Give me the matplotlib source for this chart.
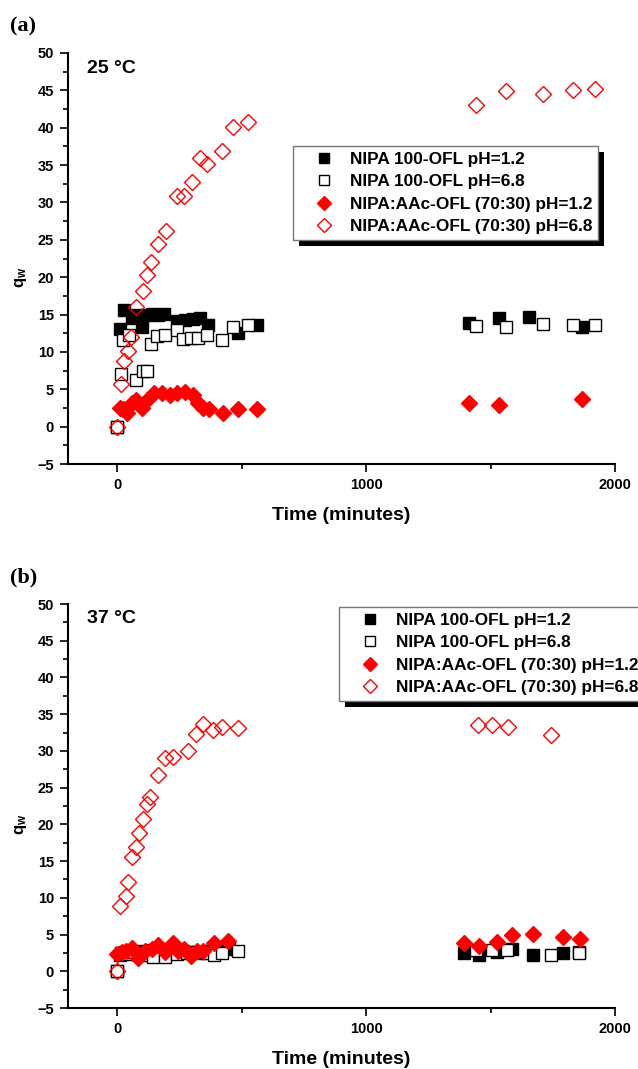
import matplotlib
matplotlib.use("Agg")
import matplotlib.pyplot as plt
from matplotlib.ticker import MultipleLocator
import matplotlib.patheffects as pe

plt.rcParams['font.family'] = ['Liberation Sans', 'DejaVu Sans']
plt.rcParams['font.weight'] = 'bold'
plt.rcParams['mathtext.fontset'] = 'custom'
plt.rcParams['mathtext.bf'] = 'Liberation Sans:bold'
plt.rcParams['mathtext.rm'] = 'Liberation Sans:bold'
plt.rcParams['mathtext.it'] = 'Liberation Sans:bold'
plt.rcParams['mathtext.default'] = 'bf'

labels = ["NIPA 100-OFL pH=1.2", "NIPA 100-OFL pH=6.8",
          "NIPA:AAc-OFL (70:30) pH=1.2", "NIPA:AAc-OFL (70:30) pH=6.8"]

# ---- Panel (a) 25 °C ----
a_nipa12_x = [0, 12, 28, 60, 76, 99, 115, 140, 165, 190, 240, 273, 306, 333, 367, 487, 564,
              1415, 1535, 1656, 1866]
a_nipa12_y = [0, 13.0, 15.6, 14.5, 15.0, 13.4, 14.9, 15.1, 15.0, 15.1, 14.1, 14.3, 14.4, 14.5, 13.6, 12.5, 13.6,
              13.9, 14.6, 14.7, 13.3]
a_nipa68_x = [0, 16, 25, 46, 76, 106, 119, 135, 160, 193, 240, 264, 296, 327, 360, 420, 465, 527,
              1442, 1561, 1712, 1830, 1921]
a_nipa68_y = [0, 7.0, 11.6, 12.3, 6.3, 7.5, 7.5, 11.0, 12.1, 12.3, 12.9, 11.7, 11.9, 11.9, 12.3, 11.6, 13.4, 13.6,
              13.5, 13.4, 13.7, 13.6, 13.6]
a_aac12_x = [10, 25, 39, 59, 76, 99, 122, 149, 179, 213, 242, 273, 304, 324, 344, 371, 427, 487, 561,
             1415, 1535, 1866]
a_aac12_y = [2.5, 2.3, 1.8, 3.2, 3.6, 2.5, 3.6, 4.5, 4.5, 4.3, 4.5, 4.7, 4.3, 3.2, 2.5, 2.3, 1.8, 2.3, 2.3,
             3.1, 2.9, 3.7]
a_aac68_x = [0, 15, 28, 43, 56, 76, 106, 119, 135, 166, 197, 240, 270, 302, 333, 360, 420, 465, 527,
             1442, 1561, 1712, 1830, 1921]
a_aac68_y = [0, 5.7, 8.8, 10.1, 12.0, 16.0, 18.2, 20.3, 22.0, 24.5, 26.2, 30.8, 30.9, 32.7, 35.9, 35.1, 36.9, 40.1, 40.8,
             43.1, 44.9, 44.5, 45.1, 45.2]

# ---- Panel (b) 37 °C ----
b_nipa12_x = [0, 12, 30, 55, 80, 105, 135, 165, 195, 230, 265, 300, 335, 370, 410, 450,
              1395, 1455, 1525, 1585, 1672, 1793, 1857]
b_nipa12_y = [0, 2.2, 2.6, 2.8, 2.4, 2.7, 2.9, 3.0, 2.8, 3.0, 2.7, 2.6, 2.5, 2.8, 2.9, 3.0,
              2.5, 2.2, 2.6, 3.1, 2.2, 2.5, 2.6]
b_nipa68_x = [0, 15, 40, 70, 95, 120, 144, 193, 240, 280, 320, 360, 390, 422, 487,
              1442, 1505, 1565, 1742, 1855]
b_nipa68_y = [0, 2.5, 2.3, 2.6, 2.4, 2.2, 2.0, 2.0, 2.4, 2.5, 2.6, 2.5, 2.2, 2.5, 2.8,
              2.9, 2.9, 2.9, 2.2, 2.5]
b_aac12_x = [1, 18, 36, 59, 86, 112, 139, 166, 193, 226, 246, 269, 296, 320, 347, 390, 447,
             1395, 1455, 1527, 1588, 1672, 1793, 1859]
b_aac12_y = [2.4, 2.6, 2.8, 3.2, 1.8, 2.8, 3.0, 3.6, 2.6, 3.8, 2.8, 3.0, 2.1, 2.8, 2.8, 3.8, 4.1,
             3.9, 3.4, 4.0, 5.0, 5.1, 4.6, 4.4]
b_aac68_x = [0, 12, 35, 45, 59, 76, 90, 106, 122, 132, 166, 193, 226, 284, 317, 344, 387, 420, 487,
             1450, 1506, 1570, 1743]
b_aac68_y = [0, 8.9, 10.3, 12.2, 15.5, 16.9, 18.8, 20.7, 22.8, 23.7, 26.7, 29.0, 29.2, 30.0, 32.3, 33.7, 32.8, 33.3, 33.1,
             33.5, 33.5, 33.2, 32.2]

RED = '#ff0000'

fig = plt.figure(figsize=(6.38, 10.69), dpi=100)
W, H = 638, 1069

def make_axes(top_px, bot_px):
    left, right = 68, 615
    return fig.add_axes([left / W, 1 - bot_px / H, (right - left) / W, (bot_px - top_px) / H])

ax_a = make_axes(53, 464)
ax_b = make_axes(604, 1008)

def draw_panel(ax, data, temp_text, leg_anchor, ax_h_px):
    (x1, y1), (x2, y2), (x3, y3), (x4, y4) = data
    h1, = ax.plot(x1, y1, 's', ms=9, mfc='black', mec='black', mew=1, ls='none', zorder=3)
    h2, = ax.plot(x2, y2, 's', ms=9, mfc='white', mec='black', mew=1, ls='none', zorder=4)
    h3, = ax.plot(x3, y3, 'D', ms=8.5, mfc=RED, mec=RED, mew=1, ls='none', zorder=5)
    h4, = ax.plot(x4, y4, 'D', ms=8.5, mfc='none', mec=RED, mew=1, ls='none', zorder=6)
    ax.set_xlim(-197, 2000)
    ax.set_ylim(-5, 50)
    ax.spines['top'].set_visible(False)
    ax.spines['right'].set_visible(False)
    for s in ('left', 'bottom'):
        ax.spines[s].set_linewidth(1.5)
    ax.xaxis.set_major_locator(MultipleLocator(1000))
    ax.xaxis.set_minor_locator(MultipleLocator(500))
    ax.yaxis.set_major_locator(MultipleLocator(5))
    ax.yaxis.set_minor_locator(MultipleLocator(2.5))
    ax.tick_params(which='major', length=6, width=1.2, labelsize=10.5, pad=4)
    ax.tick_params(which='minor', length=3.5, width=1.2)
    for lab in ax.get_xticklabels() + ax.get_yticklabels():
        lab.set_fontweight('bold')
    ax.set_xlabel('Time (minutes)', fontsize=14, fontweight='bold')
    ax.xaxis.set_label_coords(0.5, -43 / ax_h_px)
    ax.set_ylabel('q$_{w}$', fontsize=12, fontweight='bold')
    ax.yaxis.set_label_coords(-39 / 547, 25 / 55)
    ax.text(0.035, 0.963, temp_text, transform=ax.transAxes, fontsize=14,
            fontweight='bold', ha='left', va='center')
    leg = ax.legend([h1, h2, h3, h4], labels, loc='upper left', bbox_to_anchor=leg_anchor,
                    fontsize=12.4, frameon=True, fancybox=False, framealpha=1.0,
                    borderpad=0.35, handlelength=2.9, handletextpad=0.05, labelspacing=0.42,
                    markerscale=0.85, borderaxespad=0)
    for t in leg.get_texts():
        t.set_fontweight('bold')
    fr = leg.get_frame()
    fr.set_edgecolor('#777777')
    fr.set_linewidth(1.0)
    fr.set_path_effects([pe.SimplePatchShadow(offset=(4.3, -4.3), shadow_rgbFace='black', alpha=1.0),
                         pe.Normal()])
    return leg

draw_panel(ax_a, [(a_nipa12_x, a_nipa12_y), (a_nipa68_x, a_nipa68_y),
                  (a_aac12_x, a_aac12_y), (a_aac68_x, a_aac68_y)],
           '25 °C', (0.411, 0.774), 411)
draw_panel(ax_b, [(b_nipa12_x, b_nipa12_y), (b_nipa68_x, b_nipa68_y),
                  (b_aac12_x, b_aac12_y), (b_aac68_x, b_aac68_y)],
           '37 °C', (0.4954, 0.9926), 404)

fig.text(10 / W, 1 - 26 / H, '(a)', family=['Liberation Serif', 'DejaVu Serif'],
         fontsize=16, fontweight='bold', ha='left', va='center')
fig.text(10 / W, 1 - 577 / H, '(b)', family=['Liberation Serif', 'DejaVu Serif'],
         fontsize=16, fontweight='bold', ha='left', va='center')

fig.savefig('out.png', dpi=100)
